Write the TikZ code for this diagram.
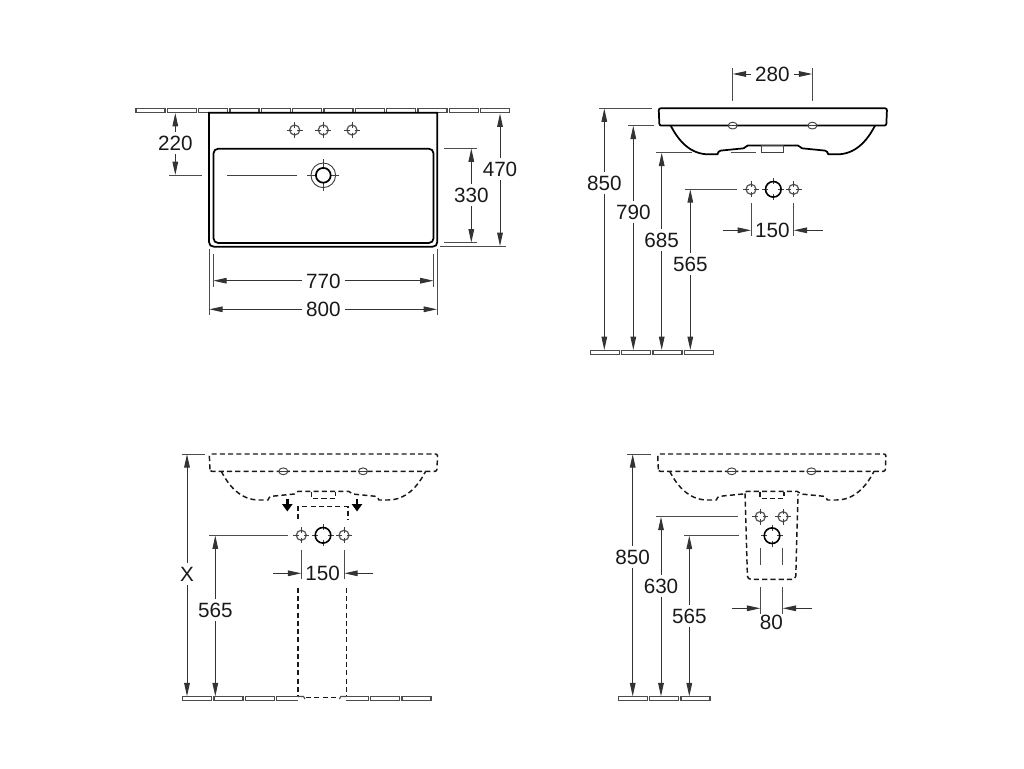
\documentclass[tikz,border=0pt]{standalone}
\usepackage{fontspec}
\setmainfont{Liberation Sans}
\usetikzlibrary{arrows.meta}
\tikzset{
    tile/.style={draw=black!70, line width=0.85pt, fill=white},
    outline/.style={draw=black, line width=1.3pt},
    hidden/.style={draw=black!90, line width=1.1pt, dash pattern=on 3.8pt off 2.4pt},
    thinline/.style={draw=black!75, line width=0.7pt},
    extline/.style={draw=black!70, line width=0.7pt},
    dimline/.style={
        draw=black!80,
        line width=0.7pt,
        -{Triangle[length=10pt, width=4.2pt]}
    },
    dimtext/.style={
        font=\fontsize{15.5}{15.5}\selectfont,
        text=black!90,
        inner xsep=2.8pt,
        inner ysep=2.5pt,
        text height=11pt,
        text depth=0pt
    },
    fallarrow/.style={
        draw=black,
        line width=1.8pt,
        -{Triangle[length=5.5pt, width=7.5pt]}
    },
    smallhole/.pic={
        \draw[draw=black!65, line width=0.95pt] (0,0) circle (5);
        \draw[thinline] (-8,0) -- (-2.5,0) (2.5,0) -- (8,0) (0,-8) -- (0,-2.5) (0,2.5) -- (0,8);
    },
    bighole/.pic={
        \draw[thinline] (-11,0) -- (-5,0) (5,0) -- (11,0) (0,-11) -- (0,-5) (0,5) -- (0,11);
        \draw[draw=black, line width=1.2pt] (0,0) circle (7.8);
    }
}
% basin seen from the front: left edge, top edge, line style
\newcommand{\sideview}[3]{
  \begin{scope}[shift={(#1,#2)}]
    \draw[#3, rounded corners=1.5pt] (0.7,17.3) -- (0,0) -- (228.3,0) -- (227.6,17.3) -- cycle;
    \draw[#3] (12,17.3) .. controls (20,33) and (32,46) .. (49.7,46) -- (58.7,46)
      .. controls (59.5,44) and (60,42.5) .. (62,42.3) -- (85,40) .. controls (87,39.7) and (87,37.3) .. (89,37.3) -- (139.3,37.3)
      .. controls (141.3,37.3) and (141.3,39.7) .. (143.3,40) -- (166.3,42.3)
      .. controls (168.3,42.5) and (168.8,44) .. (169.6,46) -- (178.6,46)
      .. controls (196.3,46) and (208.3,33) .. (216.3,17.3);
    \draw[thinline, fill=white] (74,17.3) ellipse (4.5 and 3.4);
    \draw[thinline, fill=white] (153.7,17.3) ellipse (4.5 and 3.4);
    \draw[thinline] (69.5,17.3) -- (78.5,17.3) (149.2,17.3) -- (158.2,17.3);
  \end{scope}
}
\begin{document}
\begin{tikzpicture}[x=0.75pt, y=-0.75pt]
  \useasboundingbox (0,0) rectangle (1024,768);

  % ---- top view ----
  \foreach \i in {0,...,11} {
    \draw[tile] ({136+31.33*\i},108.2) rectangle +(29,4.4);
  }
  \draw[outline, fill=white] (209,112.7) -- (437.3,112.7) -- (437.3,242) .. controls (437.3,245) and (435.3,246.7) .. (432.5,246.7)
    -- (214,246.7) .. controls (211,246.7) and (209,245) .. (209,242) -- cycle;
  \draw[outline, rounded corners=3.5pt] (213.5,148.7) rectangle (433.5,243);
  \foreach \hx in {294.7,323.3,352} {
    \pic at (\hx,130) {smallhole};
  }
  \draw[thinline] (307.3,175.3) -- (339.3,175.3) (323.3,159.3) -- (323.3,191.3);
  \draw[thinline] (323.3,175.3) circle (12.3);
  \draw[draw=black, fill=white, line width=1.3pt] (323.3,175.3) circle (7.4);
  \draw[thinline] (227.3,175.3) -- (296.7,175.3);

  \coordinate (t220a) at (175.3,113);
  \coordinate (t220b) at (175.3,175);
  \coordinate (t330a) at (471.3,148.5);
  \coordinate (t330b) at (471.3,242.5);
  \coordinate (t470a) at (500,113.5);
  \coordinate (t470b) at (500,246);
  \coordinate (t770a) at (213.3,280.7);
  \coordinate (t770b) at (433.5,280.7);
  \coordinate (t800a) at (209.3,309.3);
  \coordinate (t800b) at (437,309.3);

  \node[dimtext] (n220) at (175.3,143.3) {220};
  \node[dimtext] (n330) at (471.3,195) {330};
  \node[dimtext] (n470) at (500,168.7) {470};
  \node[dimtext] (n770) at (323.3,280.7) {770};
  \node[dimtext] (n800) at (323.3,309.3) {800};

  \draw[dimline] (n220) -- (t220a);
  \draw[dimline] (n220) -- (t220b);
  \draw[dimline] (n330) -- (t330a);
  \draw[dimline] (n330) -- (t330b);
  \draw[dimline] (n470) -- (t470a);
  \draw[dimline] (n470) -- (t470b);
  \draw[dimline] (n770) -- (t770a);
  \draw[dimline] (n770) -- (t770b);
  \draw[dimline] (n800) -- (t800a);
  \draw[dimline] (n800) -- (t800b);

  \draw[extline] (169.3,175.3) -- (202.3,175.3);
  \draw[extline] (444.3,148.3) -- (477.3,148.3);
  \draw[extline] (444.3,242.5) -- (477.3,242.5);
  \draw[extline] (440,246.5) -- (506,246.5);
  \draw[extline] (213.3,254) -- (213.3,286.7);
  \draw[extline] (433.5,254) -- (433.5,286.7);
  \draw[extline] (209.3,248.5) -- (209.3,315);
  \draw[extline] (437,248.5) -- (437,315);

  % ---- front view with measures to the floor ----
  \sideview{658.7}{108.3}{outline}
  \draw[thinline] (761.7,145.6) rectangle (783.4,152.6);
  \foreach \i in {0,...,3} {
    \draw[tile] ({590.3+31.33*\i},350.3) rectangle +(29,4.6);
  }
  \pic at (751,189.3) {smallhole};
  \pic at (773.3,189.3) {bighole};
  \pic at (793.7,189.3) {smallhole};

  \coordinate (s850a) at (604.3,108.5);
  \coordinate (s850b) at (604.3,350);
  \coordinate (s790a) at (633.3,125.7);
  \coordinate (s790b) at (633.3,350);
  \coordinate (s685a) at (661.7,152.7);
  \coordinate (s685b) at (661.7,350);
  \coordinate (s565a) at (690.3,189.3);
  \coordinate (s565b) at (690.3,350);
  \coordinate (s280a) at (732.7,74);
  \coordinate (s280b) at (812.3,74);
  \coordinate (s150a) at (722.7,230.3);
  \coordinate (s150b) at (751,230.3);
  \coordinate (s150c) at (822.7,230.3);
  \coordinate (s150d) at (793.7,230.3);

  \node[dimtext] (s850) at (604.3,182.7) {850};
  \node[dimtext] (s790) at (633.3,211.7) {790};
  \node[dimtext] (s685) at (661.7,240) {685};
  \node[dimtext] (s565) at (690.3,264) {565};
  \node[dimtext] (s280) at (772.3,74) {280};
  \node[dimtext] (s150) at (772.3,230.3) {150};

  \foreach \m in {850,790,685,565} {
    \draw[dimline] (s\m) -- (s\m a);
    \draw[dimline] (s\m) -- (s\m b);
  }
  \draw[dimline] (s280) -- (s280a);
  \draw[dimline] (s280) -- (s280b);
  \draw[dimline] (s150a) -- (s150b);
  \draw[dimline] (s150c) -- (s150d);

  \draw[extline] (599,108.3) -- (652.3,108.3);
  \draw[extline] (628.3,125.7) -- (654,125.7);
  \draw[extline] (656,152.7) -- (691.7,152.7) (730.7,152.7) -- (755.7,152.7);
  \draw[extline] (684.7,189.3) -- (737.3,189.3);
  \draw[extline] (732.7,68) -- (732.7,101.3);
  \draw[extline] (812.3,68) -- (812.3,101.3);
  \draw[extline] (751,203.3) -- (751,236);
  \draw[extline] (793.7,203.3) -- (793.7,236);

  % ---- pedestal ----
  \foreach \i in {0,...,7} {
    \draw[tile] ({182.7+31.33*\i},696.5) rectangle +(29,4.4);
  }
  \fill[white] (298,694) rectangle (346.3,703);
  \draw[tile] (298,696.5) -- (303.5,696.5) -- (305,699);
  \draw[tile] (346.3,696.5) -- (340.8,696.5) -- (339.3,699);
  \sideview{209.3}{454}{hidden}
  \draw[hidden] (311.7,491.5) -- (311.7,498.3) -- (335.3,498.3) -- (335.3,491.5);
  \draw[fallarrow] (287.3,498.5) -- (287.3,511.5);
  \draw[fallarrow] (357,498.5) -- (357,511.5);
  \draw[hidden] (298,519) -- (298,506.7) -- (348,506.7) -- (348,519);
  \draw[hidden] (298,587.7) -- (298,696);
  \draw[hidden] (346.3,587.7) -- (346.3,696);
  \draw[hidden] (306,697.5) -- (338,697.5);
  \pic at (301.3,535.3) {smallhole};
  \pic at (323,535.3) {bighole};
  \pic at (344,535.3) {smallhole};

  \coordinate (pXa) at (187,454.2);
  \coordinate (pXb) at (187,696.3);
  \coordinate (p565a) at (215.3,535.5);
  \coordinate (p565b) at (215.3,696.3);
  \coordinate (p150a) at (273,573.3);
  \coordinate (p150b) at (301.3,573.3);
  \coordinate (p150c) at (373.3,573.3);
  \coordinate (p150d) at (344.3,573.3);

  \node[dimtext] (pX) at (187,574) {X};
  \node[dimtext] (p565) at (215.3,610) {565};
  \node[dimtext] (p150) at (322.7,573.3) {150};

  \foreach \m in {X,565} {
    \draw[dimline] (p\m) -- (p\m a);
    \draw[dimline] (p\m) -- (p\m b);
  }
  \draw[dimline] (p150a) -- (p150b);
  \draw[dimline] (p150c) -- (p150d);

  \draw[extline] (181.7,454) -- (205.3,454);
  \draw[extline] (209.3,535.3) -- (288.3,535.3);
  \draw[extline] (301.3,550) -- (301.3,579.3);
  \draw[extline] (344.3,550) -- (344.3,579.3);

  % ---- siphon cover ----
  \foreach \i in {0,...,2} {
    \draw[tile] ({618.3+31.33*\i},696.5) rectangle +(29,4.4);
  }
  \sideview{657.7}{454}{hidden}
  \draw[hidden] (760.2,491.5) -- (760.2,498.3) -- (783.8,498.3) -- (783.8,491.5);
  \draw[hidden, rounded corners=2.5pt] (745,493.3) -- (747.5,579.3) -- (795.7,579.3) -- (798,494);
  \pic at (760.3,516.7) {smallhole};
  \pic at (783,516.7) {smallhole};
  \pic at (772,535.7) {bighole};

  \coordinate (c850a) at (632.7,454.2);
  \coordinate (c850b) at (632.7,696.3);
  \coordinate (c630a) at (661,516.9);
  \coordinate (c630b) at (661,696.3);
  \coordinate (c565a) at (689.3,535.7);
  \coordinate (c565b) at (689.3,696.3);
  \coordinate (c80a) at (731.7,608.3);
  \coordinate (c80b) at (760.3,608.3);
  \coordinate (c80c) at (811.7,608.3);
  \coordinate (c80d) at (782.7,608.3);

  \node[dimtext] (c850) at (632.7,556.7) {850};
  \node[dimtext] (c630) at (661,585.7) {630};
  \node[dimtext] (c565) at (689.3,615.7) {565};
  \node[dimtext] (c80) at (771.3,621.7) {80};

  \foreach \m in {850,630,565} {
    \draw[dimline] (c\m) -- (c\m a);
    \draw[dimline] (c\m) -- (c\m b);
  }
  \draw[dimline] (c80a) -- (c80b);
  \draw[dimline] (c80c) -- (c80d);

  \draw[extline] (627.3,454) -- (650.7,454);
  \draw[extline] (655.7,516.7) -- (738.3,516.7);
  \draw[extline] (684,535.7) -- (739,535.7);
  \draw[extline] (760.3,547.7) -- (760.3,565.3);
  \draw[extline] (782.7,547.7) -- (782.7,565.3);
  \draw[extline] (760.3,587.3) -- (760.3,614);
  \draw[extline] (782.7,587.3) -- (782.7,614);
\end{tikzpicture}
\end{document}
